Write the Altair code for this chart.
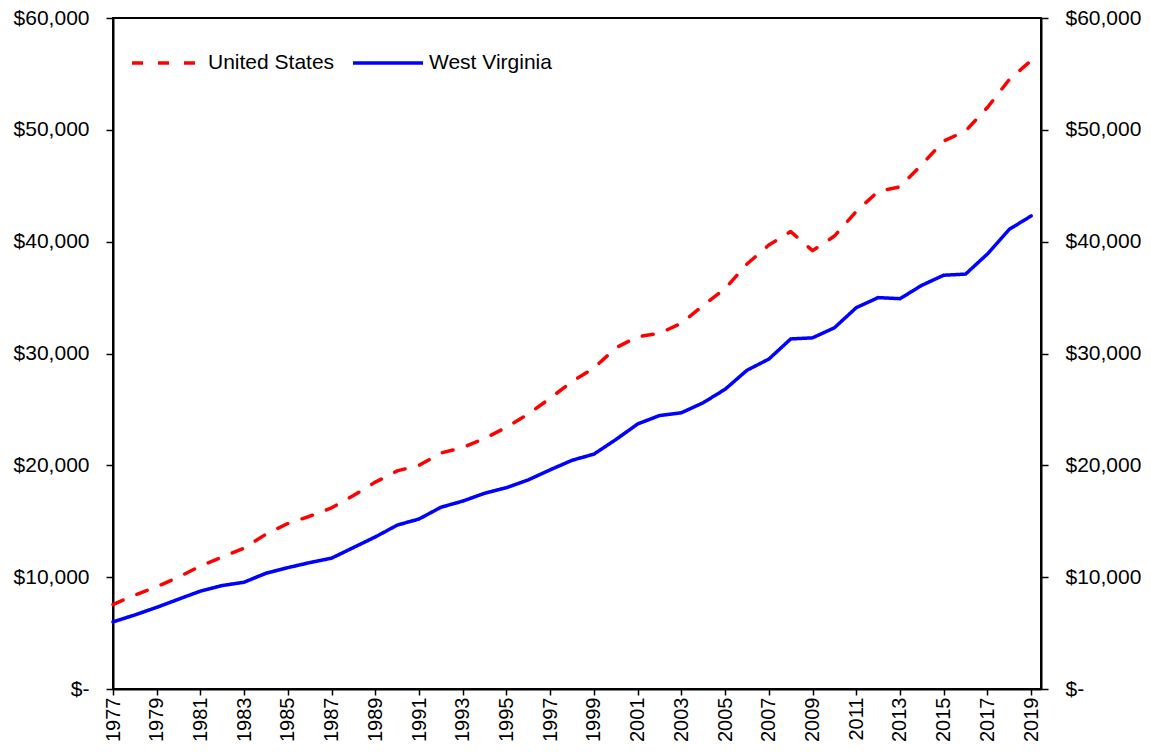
import altair as alt
import pandas as pd

years = list(range(1977, 2020))
us_income = [7550, 8400, 9150, 10000, 11000, 11800, 12600, 13850, 14800, 15450,
             16200, 17300, 18500, 19500, 20000, 21100, 21600, 22400, 23400, 24600,
             26000, 27500, 28700, 30500, 31500, 31800, 32700, 34300, 35800, 38000,
             39700, 40900, 39200, 40500, 42700, 44500, 44900, 46900, 49000, 49900,
             52000, 54500, 56200]
wv_income = [6000, 6620, 7300, 8030, 8750, 9250, 9550, 10350, 10850, 11300,
             11700, 12650, 13600, 14650, 15200, 16250, 16800, 17500, 18000, 18700,
             19600, 20450, 21000, 22300, 23700, 24450, 24700, 25600, 26800, 28500,
             29500, 31300, 31400, 32300, 34100, 35000, 34900, 36100, 37000, 37100,
             38900, 41100, 42300]
series_names = ["United States", "West Virginia"]
x_tick_years = list(range(1977, 2020, 2))
y_ticks = [0, 10000, 20000, 30000, 40000, 50000, 60000]

df = pd.DataFrame({
    "Year": years + years,
    "Income": us_income + wv_income,
    "Series": [series_names[0]] * len(years) + [series_names[1]] * len(years),
})

FONT = "Liberation Sans"
label_expr = "datum.value == 0 ? '$-' : '$' + format(datum.value, ',')"

x_enc = alt.X(
    "Year:Q",
    scale=alt.Scale(domain=[1977, 2019.45], nice=False, zero=False),
    axis=alt.Axis(values=x_tick_years, format="d", title=None, grid=False,
                  labelAngle=270, labelAlign="right", labelBaseline="middle",
                  labelFlush=False, labelOverlap=False, labelBound=False,
                  tickSize=6, labelPadding=2, labelFontSize=20),
)
y_scale = alt.Scale(domain=[0, 60000], nice=False, zero=True)

legend = alt.Legend(
    title=None, orient="none", legendX=17, legendY=8, direction="horizontal",
    symbolType="stroke", symbolSize=4900, symbolStrokeWidth=3.5,
    labelFontSize=21, labelFont=FONT, labelColor="black", labelOffset=4,
    columnPadding=11, padding=0,
)

lines = alt.Chart(df).mark_line(strokeWidth=3.5, strokeCap="round", strokeJoin="round").encode(
    x=x_enc,
    y=alt.Y("Income:Q", scale=y_scale,
            axis=alt.Axis(values=y_ticks, labelExpr=label_expr, title=None, grid=False,
                          tickSize=7, labelPadding=17, labelFontSize=21, orient="left")),
    color=alt.Color("Series:N", scale=alt.Scale(domain=series_names, range=["#FF0000", "#0000FF"]),
                    legend=legend),
    strokeDash=alt.StrokeDash("Series:N", scale=alt.Scale(domain=series_names, range=[[11, 15], [1, 0]]),
                              legend=legend),
)

right_axis = alt.Chart(df[df["Series"] == series_names[0]]).mark_line(opacity=0).encode(
    x=x_enc,
    y=alt.Y("Income:Q", scale=y_scale,
            axis=alt.Axis(values=y_ticks, labelExpr=label_expr, title=None, grid=False,
                          tickSize=7, labelPadding=17, labelFontSize=21, orient="right")),
)

chart = alt.layer(lines, right_axis).resolve_scale(y="independent").properties(
    width=928, height=671,
    autosize=alt.AutoSizeParams(type="none"),
    padding={"left": 105, "top": 10, "right": 100, "bottom": 52},
).configure_view(
    stroke="black", strokeWidth=2
).configure_axis(
    labelFont=FONT, labelColor="black", domainColor="black", domainWidth=2,
    tickColor="black", tickWidth=1.5,
)

chart.save("out.html", embed_options={"renderer": "svg", "actions": False})
